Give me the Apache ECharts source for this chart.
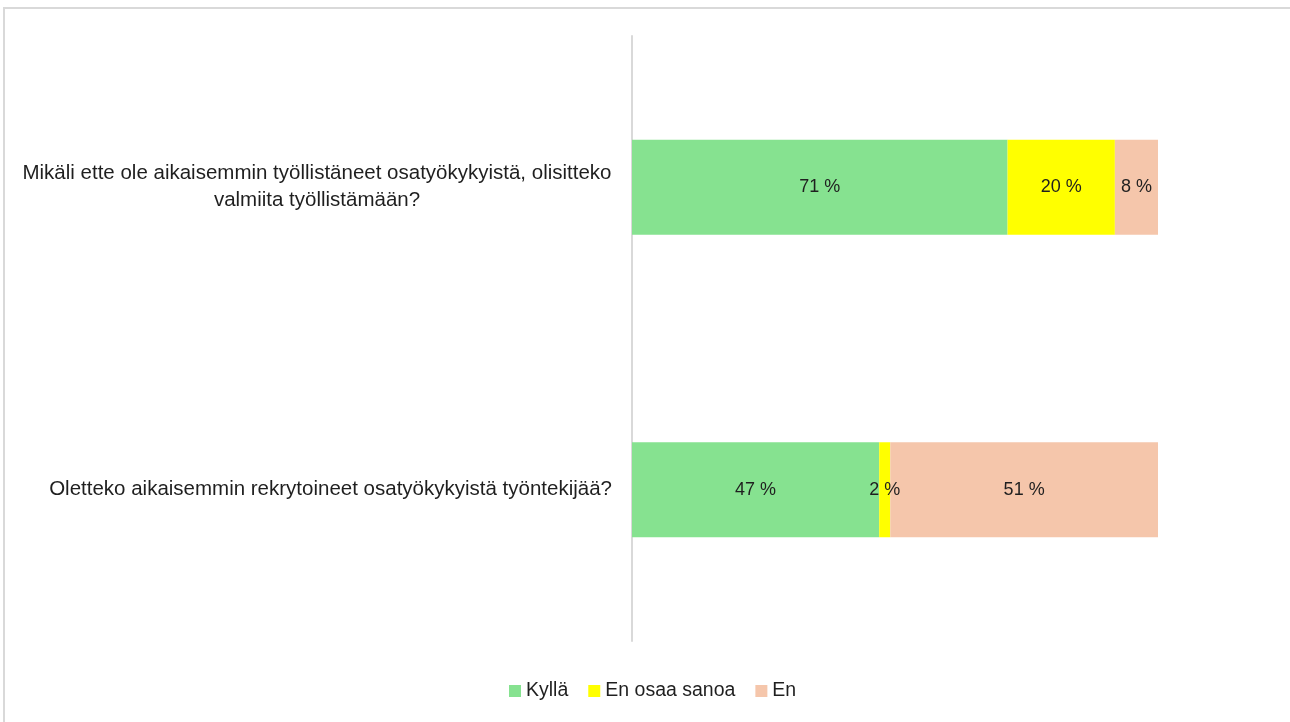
<!DOCTYPE html>
<html>
<head>
<meta charset="utf-8">
<script src="https://cdn.jsdelivr.net/npm/echarts@6/dist/echarts.min.js"></script>
<style>
html,body{margin:0;padding:0;background:#fff;overflow:hidden;}
#frame{position:absolute;left:3px;top:7px;width:1300px;height:730px;border-top:2px solid #d9d9d9;border-left:2px solid #d9d9d9;box-sizing:border-box;}
#chart{position:absolute;left:0;top:0;width:1290px;height:722px;}
</style>
</head>
<body>
<div id="frame"></div>
<div id="chart"></div>
<script>
const categories = [
  'Mikäli ette ole aikaisemmin työllistäneet osatyökykyistä, olisitteko\nvalmiita työllistämään?',
  'Oletteko aikaisemmin rekrytoineet osatyökykyistä työntekijää?'
];
const seriesNames = ['Kyllä', 'En osaa sanoa', 'En'];
const kylla = [71.4, 47.0];
const enOsaa = [20.4, 2.1];
const en = [8.2, 50.9];
const colors = ['#86E290', '#FFFF00', '#F5C6AB'];

const chart = echarts.init(document.getElementById('chart'));
const FONT = '"Liberation Sans", Arial, sans-serif';
function mk(name, data, color) {
  return {
    name: name, type: 'bar', stack: 'total', data: data, barWidth: 95,
    itemStyle: { color: color },
    label: {
      show: true, position: 'inside', color: '#1f1f1f', fontSize: 18, fontFamily: FONT,
      formatter: p => Math.round(p.value) + ' %'
    }
  };
}
chart.setOption({
  animation: false,
  legend: {
    bottom: 16, left: 504, itemWidth: 12, itemHeight: 12, itemGap: 20,
    icon: 'rect',
    textStyle: { fontSize: 19.5, fontFamily: FONT, color: '#1f1f1f' },
    data: seriesNames
  },
  grid: { left: 632, right: 132, top: 36, bottom: 81 },
  xAxis: { type: 'value', min: 0, max: 100, show: false },
  yAxis: {
    type: 'category', data: categories, inverse: true,
    axisLine: { show: true, lineStyle: { color: '#d9d9d9', width: 2 } },
    axisTick: { show: false },
    axisLabel: {
      margin: 20, fontSize: 20.5, fontFamily: FONT, color: '#1f1f1f', lineHeight: 27,
      formatter: function (v, i) {
        if (i === 0) {
          return v.split('\n').map(s => '{c|' + s + '}').join('\n');
        }
        return v;
      },
      rich: { c: { width: 590, align: 'center', fontSize: 20.5, fontFamily: FONT, color: '#1f1f1f', lineHeight: 27 } }
    }
  },
  series: [mk(seriesNames[0], kylla, colors[0]), mk(seriesNames[1], enOsaa, colors[1]), mk(seriesNames[2], en, colors[2])]
});
</script>
</body>
</html>
